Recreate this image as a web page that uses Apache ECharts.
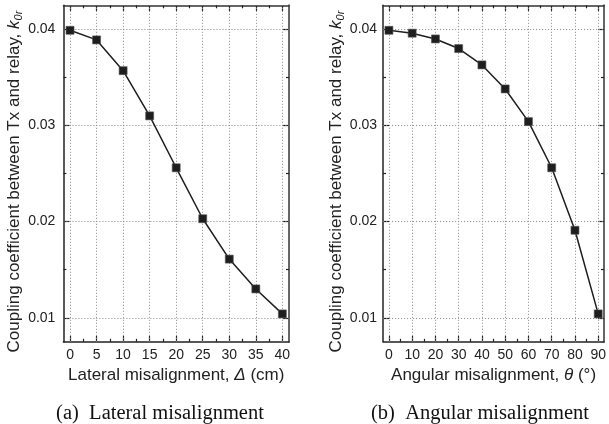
<!DOCTYPE html>
<html><head><meta charset="utf-8">
<script src="https://cdn.jsdelivr.net/npm/echarts@6/dist/echarts.min.js"></script>
<style>html,body{margin:0;padding:0;background:#fff}#c{width:609px;height:424px}</style>
</head><body><div id="c"></div>
<script>
// ---- data ----
const lateralX = [0, 5, 10, 15, 20, 25, 30, 35, 40];
const lateralK = [0.0399, 0.0389, 0.0357, 0.0310, 0.0256, 0.0203, 0.0161, 0.0130, 0.0104];
const angularX = [0, 10, 20, 30, 40, 50, 60, 70, 80, 90];
const angularK = [0.0399, 0.0396, 0.0390, 0.0380, 0.0363, 0.0338, 0.0304, 0.0256, 0.0191, 0.0104];
const yTicks = [0.01, 0.02, 0.03, 0.04];
const yMinor = [0.015, 0.025, 0.035];
const lateralTicks = [0, 5, 10, 15, 20, 25, 30, 35, 40];
const lateralMinor = [2.5, 7.5, 12.5, 17.5, 22.5, 27.5, 32.5, 37.5];
const angularTicks = [0, 10, 20, 30, 40, 50, 60, 70, 80, 90];
const angularMinor = [5, 15, 25, 35, 45, 55, 65, 75, 85];
const yLabel = 'Coupling coefficient between Tx and relay, {i|k}{sub|0r}';
const xLabelA = 'Lateral misalignment, {i|Δ} (cm)';
const xLabelB = 'Angular misalignment, {i|θ} (°)';
const captionA = '(a)  Lateral misalignment';
const captionB = '(b)  Angular misalignment';

const FONT = 'Liberation Sans, Arial, sans-serif';
const dark = '#222';

function xAx(grid, pos, min, max, ticks, len, opts) {
  opts = opts || {};
  return Object.assign({
    type: 'value', gridIndex: grid, position: pos, min: min, max: max,
    splitLine: {show: false},
    axisLine: {show: !!opts.line, onZero: false, lineStyle: {color: opts.lineColor || dark, width: opts.lineWidth || 1.5}},
    axisTick: {show: true, inside: true, length: len, customValues: ticks, lineStyle: {color: dark, width: 1.2}},
    axisLabel: opts.labels ? {show: true, customValues: ticks, margin: opts.margin || 7, color: dark, fontSize: 14, fontFamily: FONT} : {show: false}
  }, opts.extra || {});
}

const yRich = {
  i: {fontStyle: 'italic', fontSize: 17, fontFamily: FONT, color: dark},
  sub: {fontStyle: 'italic', fontSize: 11, fontFamily: FONT, color: dark, padding: [8, 0, 0, 0], verticalAlign: 'bottom'}
};
const xRich = {i: {fontStyle: 'italic', fontSize: 17, fontFamily: FONT, color: dark}};

function nameX(name) {
  return {name: name, nameLocation: 'middle', nameGap: 22,
    nameTextStyle: {fontSize: 17, fontFamily: FONT, color: dark, rich: xRich}};
}
function nameY(name) {
  return {name: name, nameLocation: 'middle', nameGap: 37,
    nameTextStyle: {fontSize: 17, fontFamily: FONT, color: dark, rich: yRich, padding: [0, 16, 0, 0]}};
}

const xAxes = [
  // grid 0
  xAx(0, 'bottom', -1.25, 41.25, lateralTicks, 6, {line: true, labels: true, margin: 6, extra: nameX(xLabelA)}),
  xAx(0, 'bottom', -1.25, 41.25, lateralMinor, 3, {}),
  xAx(0, 'top', -1.25, 41.25, lateralTicks, 6, {line: true, lineColor: '#333'}),
  xAx(0, 'top', -1.25, 41.25, lateralMinor, 3, {}),
  // grid 1
  xAx(1, 'bottom', -2.5, 92.5, angularTicks, 6, {line: true, labels: true, margin: 6, extra: nameX(xLabelB)}),
  xAx(1, 'bottom', -2.5, 92.5, angularMinor, 3, {}),
  xAx(1, 'top', -2.5, 92.5, angularTicks, 6, {line: true, lineColor: '#333'}),
  xAx(1, 'top', -2.5, 92.5, angularMinor, 3, {})
];
const yAxes = [
  xAx(0, 'left', 0.0075, 0.0425, yTicks, 6, {line: true, labels: true, margin: 8, extra: nameY(yLabel)}),
  xAx(0, 'left', 0.0075, 0.0425, yMinor, 3, {}),
  xAx(0, 'right', 0.0075, 0.0425, yTicks, 6, {line: true, lineColor: '#666', lineWidth: 2}),
  xAx(0, 'right', 0.0075, 0.0425, yMinor, 3, {}),
  xAx(1, 'left', 0.0075, 0.0425, yTicks, 6, {line: true, labels: true, margin: 6, extra: nameY(yLabel)}),
  xAx(1, 'left', 0.0075, 0.0425, yMinor, 3, {}),
  xAx(1, 'right', 0.0075, 0.0425, yTicks, 6, {line: true, lineColor: '#666', lineWidth: 2}),
  xAx(1, 'right', 0.0075, 0.0425, yMinor, 3, {})
];

function gridLines(xs, ys) {
  return xs.map(v => ({xAxis: v})).concat(ys.map(v => ({yAxis: v})));
}
function gridSeries(xi, yi, xs) {
  return {type: 'line', xAxisIndex: xi, yAxisIndex: yi, data: [], z: 1, silent: true,
    markLine: {silent: true, symbol: ['none', 'none'], animation: false, label: {show: false},
      lineStyle: {type: [1, 2], color: '#8a8a8a', width: 1}, emphasis: {disabled: true},
      data: gridLines(xs, yTicks)}};
}
function dataSeries(xi, yi, xs, ys) {
  return {type: 'line', xAxisIndex: xi, yAxisIndex: yi, z: 5,
    data: xs.map((x, i) => [x, ys[i]]),
    symbol: 'rect', symbolSize: 8, showAllSymbol: true,
    itemStyle: {color: '#1e1e1e', borderColor: '#555', borderWidth: 0.6},
    lineStyle: {color: '#1e1e1e', width: 1.5}, animation: false};
}

const chart = echarts.init(document.getElementById('c'), null, {renderer: 'canvas'});
const capStyle = {fontFamily: 'Liberation Serif, Times New Roman, serif', fontWeight: 'normal', fontSize: 20.5, color: '#111'};
chart.setOption({
  animation: false,
  backgroundColor: '#fff',
  grid: [
    {left: 63.4, width: 225.6, top: 5.3, height: 336.5, containLabel: false},
    {left: 383.1, width: 225.5, top: 5.3, height: 336.5, containLabel: false}
  ],
  xAxis: xAxes,
  yAxis: yAxes,
  title: [
    {text: captionA, left: 155, top: 398, textAlign: 'center', textStyle: capStyle},
    {text: captionB, left: 475, top: 398, textAlign: 'center', textStyle: capStyle}
  ],
  series: [
    gridSeries(0, 0, lateralTicks),
    gridSeries(4, 4, angularTicks),
    dataSeries(0, 0, lateralX, lateralK),
    dataSeries(4, 4, angularX, angularK)
  ]
});
</script></body></html>
